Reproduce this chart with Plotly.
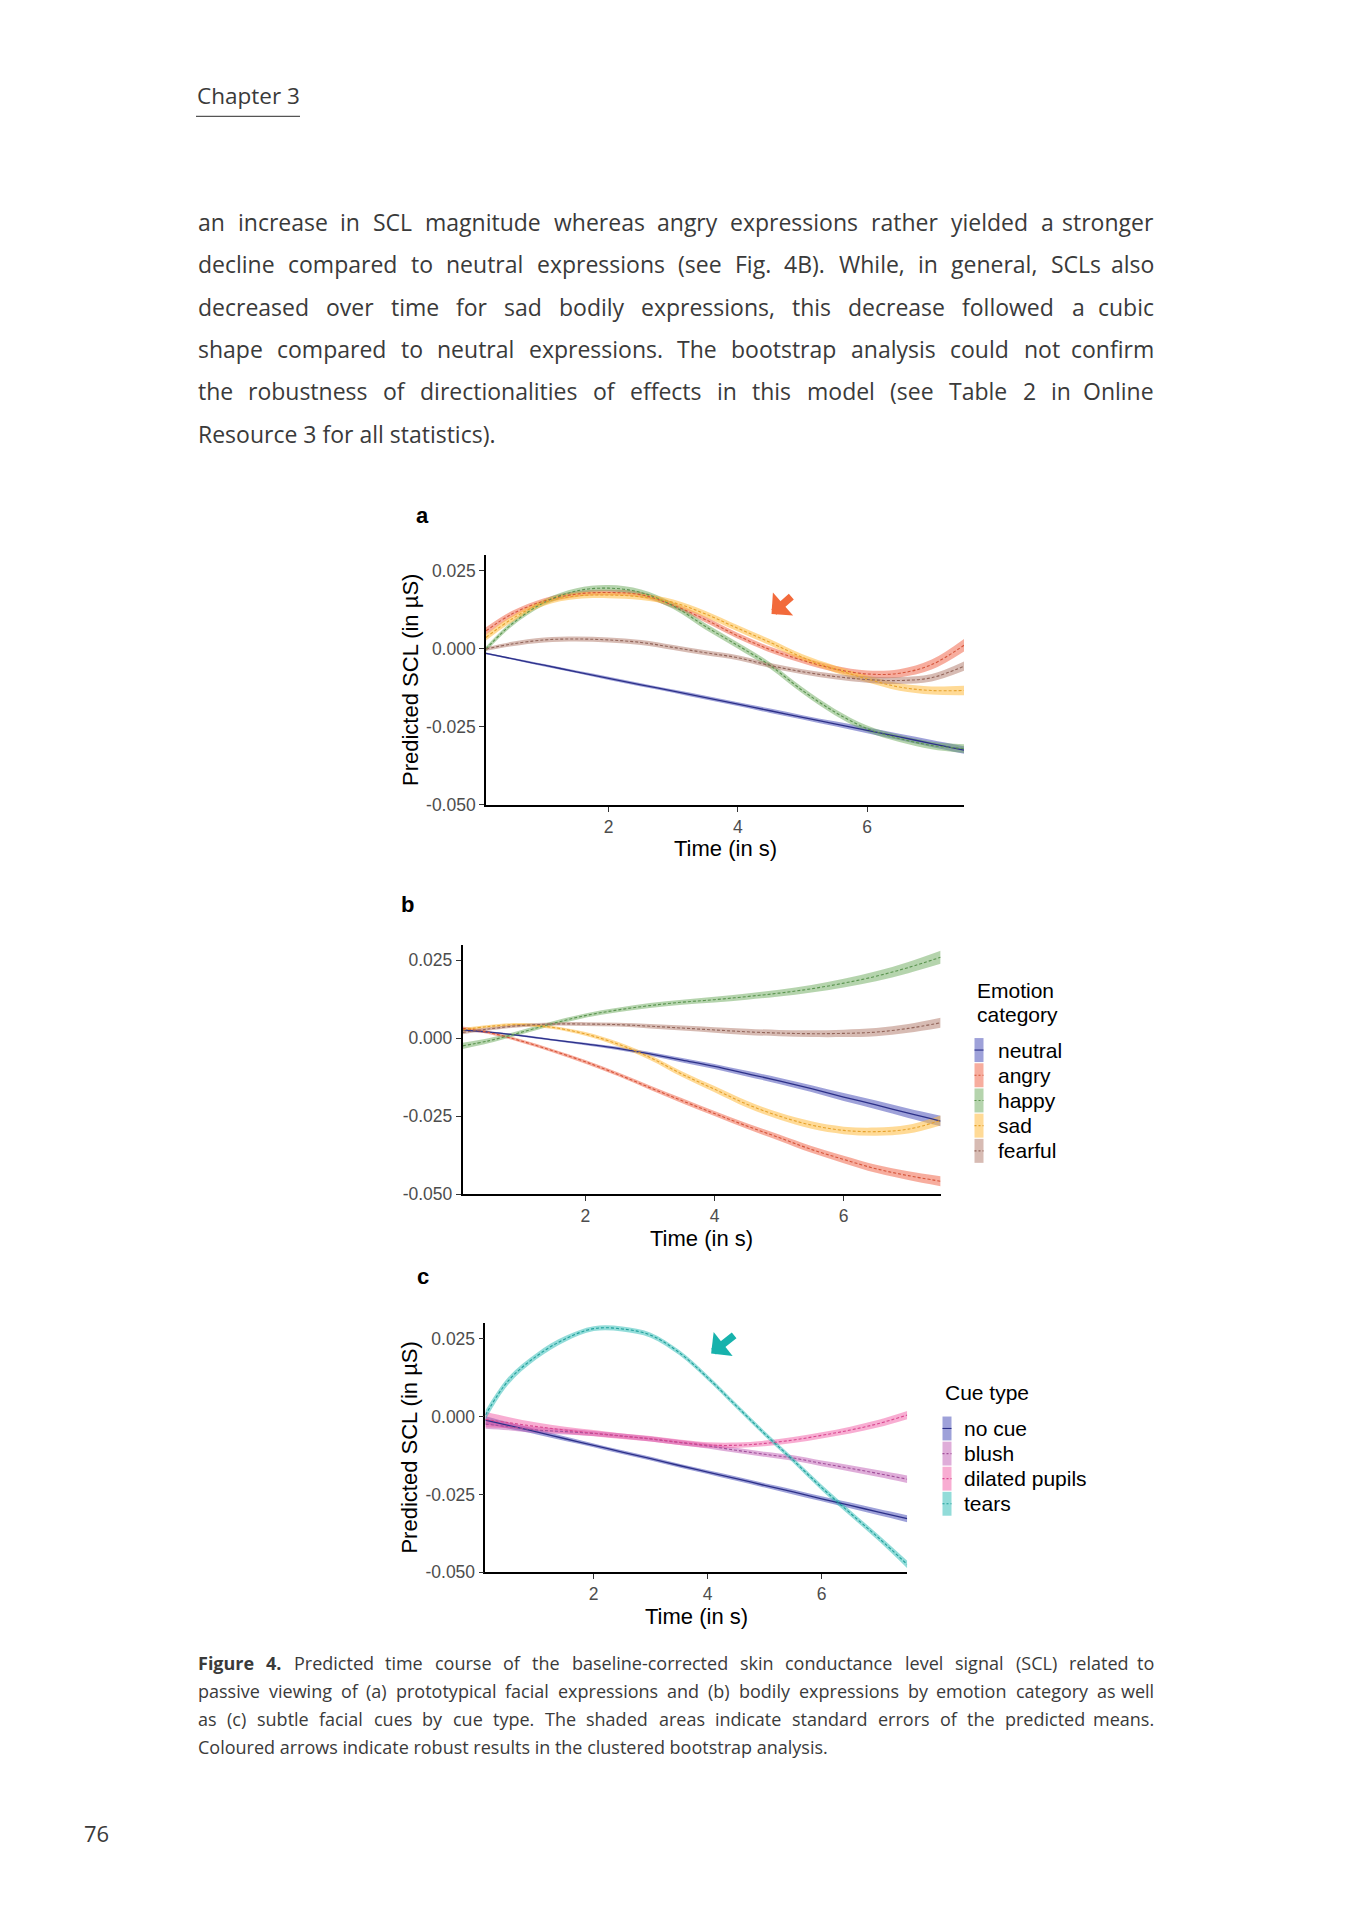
import plotly.graph_objects as go

# ---------------- data ----------------
T = [0.1, 0.5, 1.0, 1.5, 2.0, 2.5, 3.0, 3.5, 4.0, 4.5, 5.0, 5.5, 6.0, 6.5, 7.0, 7.5]

emotion_labels = ["neutral", "angry", "happy", "sad", "fearful"]
cue_labels = ["no cue", "blush", "dilated pupils", "tears"]

x_tickvals = [2, 4, 6]
x_ticktext = ["2", "4", "6"]
y_tickvals = [-0.05, -0.025, 0.0, 0.025]
y_ticktext = ["-0.050", "-0.025", "0.000", "0.025"]

# panel a: prototypical facial expressions
a_neutral = [-0.0014, -0.0031, -0.0052, -0.0073, -0.0094, -0.0115, -0.0135, -0.0156,
             -0.0177, -0.0198, -0.0219, -0.0240, -0.0261, -0.0282, -0.0303, -0.0324]
a_angry = [0.0058, 0.0112, 0.0154, 0.0176, 0.0181, 0.0174, 0.0140, 0.0094,
           0.0042, -0.0002, -0.0036, -0.0064, -0.0080, -0.0078, -0.0050, 0.0012]
a_happy = [0.0000, 0.0080, 0.0149, 0.0186, 0.0195, 0.0181, 0.0138, 0.0072,
           0.0011, -0.0053, -0.0133, -0.0202, -0.0255, -0.0287, -0.0309, -0.0319]
a_sad = [0.0037, 0.0096, 0.0149, 0.0170, 0.0173, 0.0167, 0.0149, 0.0112,
         0.0066, 0.0021, -0.0027, -0.0064, -0.0096, -0.0122, -0.0133, -0.0133]
a_fearful = [0.0000, 0.0016, 0.0029, 0.0032, 0.0029, 0.0021, 0.0005, -0.0012,
             -0.0028, -0.0053, -0.0073, -0.0088, -0.0098, -0.0101, -0.0092, -0.0055]
a_neutral_se = [0.0003, 0.0003, 0.0004, 0.0004, 0.0005, 0.0005, 0.0005, 0.0006,
                0.0006, 0.0007, 0.0007, 0.0008, 0.0009, 0.0010, 0.0011, 0.0012]
a_angry_se = [0.0012, 0.0010, 0.0009, 0.0009, 0.0009, 0.0009, 0.0009, 0.0009,
              0.0009, 0.0009, 0.0010, 0.0010, 0.0011, 0.0013, 0.0016, 0.0020]
a_happy_se = [0.0008, 0.0008, 0.0009, 0.0009, 0.0010, 0.0010, 0.0010, 0.0010,
              0.0010, 0.0010, 0.0010, 0.0010, 0.0010, 0.0011, 0.0012, 0.0014]
a_sad_se = [0.0010, 0.0010, 0.0010, 0.0010, 0.0010, 0.0010, 0.0010, 0.0010,
            0.0010, 0.0010, 0.0010, 0.0011, 0.0011, 0.0012, 0.0013, 0.0015]
a_fearful_se = [0.0006, 0.0007, 0.0008, 0.0008, 0.0008, 0.0008, 0.0008, 0.0008,
                0.0008, 0.0008, 0.0008, 0.0009, 0.0010, 0.0011, 0.0012, 0.0015]

# panel b: bodily expressions
b_neutral = [0.0027, 0.0020, 0.0009, -0.0005, -0.0018, -0.0032, -0.0050, -0.0070,
             -0.0090, -0.0113, -0.0136, -0.0161, -0.0188, -0.0213, -0.0240, -0.0265]
b_angry = [0.0032, 0.0019, -0.0008, -0.0040, -0.0075, -0.0115, -0.0158, -0.0200,
           -0.0241, -0.0281, -0.0318, -0.0356, -0.0388, -0.0418, -0.0440, -0.0458]
b_happy = [-0.0024, -0.0008, 0.0019, 0.0048, 0.0073, 0.0091, 0.0105, 0.0116,
           0.0124, 0.0134, 0.0145, 0.0159, 0.0177, 0.0199, 0.0227, 0.0260]
b_sad = [0.0027, 0.0038, 0.0044, 0.0035, 0.0014, -0.0018, -0.0061, -0.0115,
         -0.0163, -0.0211, -0.0249, -0.0278, -0.0295, -0.0299, -0.0291, -0.0263]
b_fearful = [0.0019, 0.0030, 0.0041, 0.0046, 0.0046, 0.0044, 0.0039, 0.0033,
             0.0027, 0.0021, 0.0017, 0.0015, 0.0016, 0.0020, 0.0032, 0.0050]
b_neutral_se = [0.0004, 0.0003, 0.0003, 0.0003, 0.0004, 0.0005, 0.0006, 0.0007,
                0.0008, 0.0009, 0.0010, 0.0011, 0.0013, 0.0014, 0.0015, 0.0017]
b_angry_se = [0.0006, 0.0005, 0.0005, 0.0005, 0.0006, 0.0006, 0.0007, 0.0008,
              0.0008, 0.0009, 0.0010, 0.0011, 0.0012, 0.0013, 0.0014, 0.0016]
b_happy_se = [0.0010, 0.0008, 0.0007, 0.0007, 0.0007, 0.0007, 0.0008, 0.0008,
              0.0009, 0.0010, 0.0011, 0.0012, 0.0014, 0.0016, 0.0018, 0.0021]
b_sad_se = [0.0006, 0.0005, 0.0005, 0.0005, 0.0006, 0.0007, 0.0008, 0.0009,
            0.0010, 0.0011, 0.0011, 0.0012, 0.0012, 0.0013, 0.0014, 0.0016]
b_fearful_se = [0.0006, 0.0005, 0.0005, 0.0005, 0.0006, 0.0006, 0.0007, 0.0008,
                0.0009, 0.0010, 0.0010, 0.0011, 0.0012, 0.0013, 0.0014, 0.0016]

# panel c: subtle facial cues
c_nocue = [-0.0011, -0.0028, -0.0049, -0.0071, -0.0092, -0.0114, -0.0135, -0.0157,
           -0.0178, -0.0199, -0.0221, -0.0242, -0.0264, -0.0285, -0.0307, -0.0328]
c_blush = [-0.0024, -0.0032, -0.0043, -0.0048, -0.0054, -0.0062, -0.0072, -0.0083,
           -0.0094, -0.0108, -0.0121, -0.0133, -0.0150, -0.0166, -0.0183, -0.0201]
c_dilated = [-0.0009, -0.0019, -0.0032, -0.0043, -0.0053, -0.0063, -0.0071, -0.0082,
             -0.0091, -0.0092, -0.0086, -0.0075, -0.0060, -0.0043, -0.0022, 0.0005]
c_tears = [0.0005, 0.0115, 0.0195, 0.0250, 0.0283, 0.0282, 0.0262, 0.0206,
           0.0125, 0.0035, -0.0055, -0.0140, -0.0228, -0.0310, -0.0390, -0.0475]
c_nocue_se = [0.0012, 0.0010, 0.0008, 0.0007, 0.0006, 0.0006, 0.0006, 0.0006,
              0.0006, 0.0007, 0.0007, 0.0008, 0.0008, 0.0009, 0.0010, 0.0011]
c_blush_se = [0.0015, 0.0012, 0.0010, 0.0009, 0.0008, 0.0008, 0.0008, 0.0008,
              0.0008, 0.0008, 0.0008, 0.0009, 0.0009, 0.0010, 0.0011, 0.0012]
c_dilated_se = [0.0025, 0.0018, 0.0013, 0.0011, 0.0010, 0.0009, 0.0009, 0.0009,
                0.0009, 0.0009, 0.0009, 0.0010, 0.0010, 0.0011, 0.0012, 0.0013]
c_tears_se = [0.0015, 0.0012, 0.0010, 0.0009, 0.0008, 0.0008, 0.0008, 0.0008,
              0.0008, 0.0008, 0.0008, 0.0008, 0.0009, 0.0009, 0.0010, 0.0012]

# arrows marking robust results (tip, tail) in data units
arrow_a = dict(x=4.52, y=0.0112, ax=4.85, ay=0.0172)
arrow_c = dict(x=4.06, y=0.0203, ax=4.49, ay=0.0265)

# text of the page
chapter_title = "Chapter 3"
page_number = "76"
body_lines = [
    "an increase in SCL magnitude whereas angry expressions rather yielded a stronger",
    "decline compared to neutral expressions (see Fig. 4B). While, in general, SCLs also",
    "decreased over time for sad bodily expressions, this decrease followed a cubic",
    "shape compared to neutral expressions. The bootstrap analysis could not confirm",
    "the robustness of directionalities of effects in this model (see Table 2 in Online",
    "Resource 3 for all statistics).",
]
caption_lines = [
    "Figure 4. Predicted time course of the baseline-corrected skin conductance level signal (SCL) related to",
    "passive viewing of (a) prototypical facial expressions and (b) bodily expressions by emotion category as well",
    "as (c) subtle facial cues by cue type. The shaded areas indicate standard errors of the predicted means.",
    "Coloured arrows indicate robust results in the clustered bootstrap analysis.",
]

# ---------------- styles ----------------
STY = {
    "neutral": dict(fill="rgba(62,68,180,0.50)", line="#2c3088", dash="solid", w=1.3),
    "angry": dict(fill="rgba(240,92,62,0.50)", line="#d5553a", dash="3px,2px", w=1.1),
    "happy": dict(fill="rgba(108,170,92,0.50)", line="#5a944f", dash="3px,2px", w=1.1),
    "sad": dict(fill="rgba(255,188,64,0.55)", line="#e6a22c", dash="3px,2px", w=1.1),
    "fearful": dict(fill="rgba(176,120,104,0.50)", line="#92655a", dash="3px,2px", w=1.1),
    "no cue": dict(fill="rgba(62,68,180,0.50)", line="#2c3088", dash="solid", w=1.3),
    "blush": dict(fill="rgba(188,84,176,0.48)", line="#a1509a", dash="3px,2px", w=1.1),
    "dilated pupils": dict(fill="rgba(240,84,160,0.48)", line="#d84890", dash="3px,2px", w=1.1),
    "tears": dict(fill="rgba(38,186,180,0.50)", line="#1f9f9a", dash="3px,2px", w=1.1),
}

panels = [
    ("x", "y", [("neutral", a_neutral, a_neutral_se), ("angry", a_angry, a_angry_se),
                ("happy", a_happy, a_happy_se), ("sad", a_sad, a_sad_se),
                ("fearful", a_fearful, a_fearful_se)]),
    ("x2", "y2", [("neutral", b_neutral, b_neutral_se), ("angry", b_angry, b_angry_se),
                  ("happy", b_happy, b_happy_se), ("sad", b_sad, b_sad_se),
                  ("fearful", b_fearful, b_fearful_se)]),
    ("x3", "y3", [("no cue", c_nocue, c_nocue_se), ("blush", c_blush, c_blush_se),
                  ("dilated pupils", c_dilated, c_dilated_se), ("tears", c_tears, c_tears_se)]),
]

# ---------------- page geometry (pixels) ----------------
OFF = 8            # default body margin of the html page (both sides)
W, H = 1359 - 2 * OFF, 1920 - 2 * OFF
SY = 1.0052        # small vertical correction measured against the reference


def PX(p):
    return (p - OFF) / W


def PY(p):
    return 1 - (p * SY - OFF) / H


fig = go.Figure()

# ribbons first, then lines
for xa, ya, series in panels:
    for name, m, se in series:
        st = STY[name]
        lo = [v - s for v, s in zip(m, se)]
        hi = [v + s for v, s in zip(m, se)]
        fig.add_trace(go.Scatter(x=T, y=lo, xaxis=xa, yaxis=ya, mode="lines",
                                 line=dict(width=0, shape="spline", color=st["fill"]),
                                 showlegend=False, hoverinfo="skip"))
        fig.add_trace(go.Scatter(x=T, y=hi, xaxis=xa, yaxis=ya, mode="lines", fill="tonexty",
                                 fillcolor=st["fill"],
                                 line=dict(width=0, shape="spline", color=st["fill"]),
                                 showlegend=False, hoverinfo="skip"))
for xa, ya, series in panels:
    for name, m, se in series:
        st = STY[name]
        fig.add_trace(go.Scatter(x=T, y=m, xaxis=xa, yaxis=ya, mode="lines", name=name,
                                 line=dict(width=st["w"], shape="spline", color=st["line"],
                                           dash=st["dash"]),
                                 showlegend=False))

AX_FONT = "Liberation Sans, Arial, sans-serif"
TXT_FONT = "Open Sans, sans-serif"

doms = {
    "a": dict(x=(486, 964), y=(555.4, 805)),
    "b": dict(x=(462.6, 940.6), y=(944.8, 1194.4)),
    "c": dict(x=(485.4, 907.2), y=(1323.4, 1572.3)),
}


def xax(d, anchor):
    return dict(domain=[PX(d["x"][0]), PX(d["x"][1])], anchor=anchor, range=[0.1, 7.5],
                tickvals=x_tickvals, ticktext=x_ticktext, showline=True, linecolor="black",
                linewidth=1.6, ticks="outside", ticklen=5, tickwidth=1.2, tickcolor="#333333",
                tickfont=dict(family=AX_FONT, size=17.5, color="#4d4d4d"),
                showgrid=False, zeroline=False, fixedrange=True)


def yax(d, anchor):
    return dict(domain=[PY(d["y"][1]), PY(d["y"][0])], anchor=anchor, range=[-0.05, 0.03],
                tickvals=y_tickvals, ticktext=y_ticktext, showline=True, linecolor="black",
                linewidth=1.6, ticks="outside", ticklen=5, tickwidth=1.2, tickcolor="#333333",
                tickfont=dict(family=AX_FONT, size=17.5, color="#4d4d4d"),
                showgrid=False, zeroline=False, fixedrange=True)


fig.update_layout(
    width=W, height=H, autosize=False,
    margin=dict(l=0, r=0, t=0, b=0, pad=0),
    paper_bgcolor="white", plot_bgcolor="white",
    showlegend=False,
    xaxis=xax(doms["a"], "y"), yaxis=yax(doms["a"], "x"),
    xaxis2=xax(doms["b"], "y2"), yaxis2=yax(doms["b"], "x2"),
    xaxis3=xax(doms["c"], "y3"), yaxis3=yax(doms["c"], "x3"),
)

ann = []
shapes = []


def text(x, y, s, size, family=AX_FONT, color="black", xanchor="left", yanchor="middle",
         angle=0, weight="normal"):
    ann.append(dict(x=PX(x), y=PY(y), xref="paper", yref="paper", text=s, showarrow=False,
                    xanchor=xanchor, yanchor=yanchor, textangle=angle,
                    font=dict(family=family, size=size, color=color, weight=weight)))


# panel letters
text(422.5, 515, "a", 22, weight="bold", xanchor="center")
text(407, 905, "b", 22, weight="bold", xanchor="center")
text(422.5, 1277, "c", 22, weight="bold", xanchor="center")

# axis titles
text(409.8, (doms["a"]["y"][0] + doms["a"]["y"][1]) / 2, "Predicted SCL (in µS)", 22,
     xanchor="center", angle=-90)
text(409.8, (doms["c"]["y"][0] + doms["c"]["y"][1]) / 2, "Predicted SCL (in µS)", 22,
     xanchor="center", angle=-90)
text(sum(doms["a"]["x"]) / 2, 848.5, "Time (in s)", 22, xanchor="center")
text(sum(doms["b"]["x"]) / 2, 1238.4, "Time (in s)", 22, xanchor="center")
text(sum(doms["c"]["x"]) / 2, 1616.8, "Time (in s)", 22, xanchor="center")


# legends (drawn by hand: tall narrow ggplot keys)
def legend(title_lines, title_y, x0, key_top, key_h, labels, label_x):
    for i, t in enumerate(title_lines):
        text(x0, title_y + i * 23.8, t, 21)
    for i, lab in enumerate(labels):
        st = STY[lab]
        top = key_top + i * key_h
        shapes.append(dict(type="rect", xref="paper", yref="paper",
                           x0=PX(x0), x1=PX(x0 + 9), y0=PY(top + key_h - 0.6), y1=PY(top + 0.6),
                           fillcolor=st["fill"], line=dict(width=0)))
        shapes.append(dict(type="line", xref="paper", yref="paper",
                           x0=PX(x0), x1=PX(x0 + 9), y0=PY(top + key_h / 2), y1=PY(top + key_h / 2),
                           line=dict(color=st["line"], width=1.1,
                                     dash="solid" if st["dash"] == "solid" else "2px,2px")))
        text(label_x, top + key_h / 2, lab, 21)


legend(["Emotion", "category"], 991, 974.5, 1037.5, 25.2, emotion_labels, 995.7)
legend(["Cue type"], 1393, 942.5, 1416, 25.1, cue_labels, 962.3)

# arrows
for arr, col, xr, yr in [(arrow_a, "#f26a3b", "x", "y"), (arrow_c, "#17b2ac", "x3", "y3")]:
    ann.append(dict(x=arr["x"], y=arr["y"], ax=arr["ax"], ay=arr["ay"], xref=xr, yref=yr,
                    axref=xr, ayref=yr, text="", showarrow=True, arrowhead=1, arrowsize=0.68,
                    arrowwidth=7.5, arrowcolor=col, standoff=0, startstandoff=0))

# ---------------- page text ----------------
OS_W = {
    " ": 0.26, "a": 0.556, "b": 0.613, "c": 0.479, "d": 0.613, "e": 0.561, "f": 0.336,
    "g": 0.546, "h": 0.613, "i": 0.258, "j": 0.258, "k": 0.525, "l": 0.258, "m": 0.932,
    "n": 0.613, "o": 0.604, "p": 0.613, "q": 0.613, "r": 0.408, "s": 0.477, "t": 0.352,
    "u": 0.613, "v": 0.501, "w": 0.778, "x": 0.524, "y": 0.501, "z": 0.463,
    "A": 0.633, "B": 0.647, "C": 0.631, "D": 0.729, "E": 0.556, "F": 0.516, "G": 0.728,
    "H": 0.738, "I": 0.279, "L": 0.519, "O": 0.779, "R": 0.618, "S": 0.549, "T": 0.553,
    "W": 0.924, ".": 0.268, ",": 0.258, "(": 0.296, ")": 0.296, "-": 0.322,
}


def word_w(w, size, bold=False):
    return sum(OS_W.get(ch, 0.572) for ch in w) * size * (1.07 if bold else 1.0)


LEFT, RIGHT = 196, 1155.5
TXT_COL = "#3a3a3a"


def justified(line, y, size, justify=True, bold_words=0):
    words = line.split(" ")
    if not justify:
        if bold_words:
            s = "<b>" + " ".join(words[:bold_words]) + "</b> " + " ".join(words[bold_words:])
        else:
            s = line
        text(LEFT, y, s, size, family=TXT_FONT, color=TXT_COL)
        return
    ws = [word_w(w, size, i < bold_words) for i, w in enumerate(words)]
    gap = (RIGHT - LEFT - sum(ws)) / (len(words) - 1)
    x = LEFT
    for i, (w, ww) in enumerate(zip(words, ws)):
        s = "<b>" + w + "</b>" if i < bold_words else w
        if i == len(words) - 1:
            text(RIGHT, y, s, size, family=TXT_FONT, color=TXT_COL, xanchor="right")
        else:
            text(x, y, s, size, family=TXT_FONT, color=TXT_COL)
        x += ww + gap


text(LEFT - 1, 95.5, chapter_title, 22.5, family=TXT_FONT, color=TXT_COL)
shapes.append(dict(type="line", xref="paper", yref="paper", x0=PX(196), x1=PX(300),
                   y0=PY(116.3), y1=PY(116.3), line=dict(color="#555555", width=1.4)))

body_y0, body_dy = 222.0, 42.3
for i, line in enumerate(body_lines):
    justified(line, body_y0 + i * body_dy, 23, justify=(i < len(body_lines) - 1))

cap_y0, cap_dy = 1662.9, 28.2
for i, line in enumerate(caption_lines):
    justified(line, cap_y0 + i * cap_dy, 18, justify=(i < len(caption_lines) - 1),
              bold_words=2 if i == 0 else 0)

text(96.5, 1832.7, page_number, 22, family=TXT_FONT, color=TXT_COL, xanchor="center")

fig.update_layout(annotations=ann, shapes=shapes)
fig.write_html("out.html")
